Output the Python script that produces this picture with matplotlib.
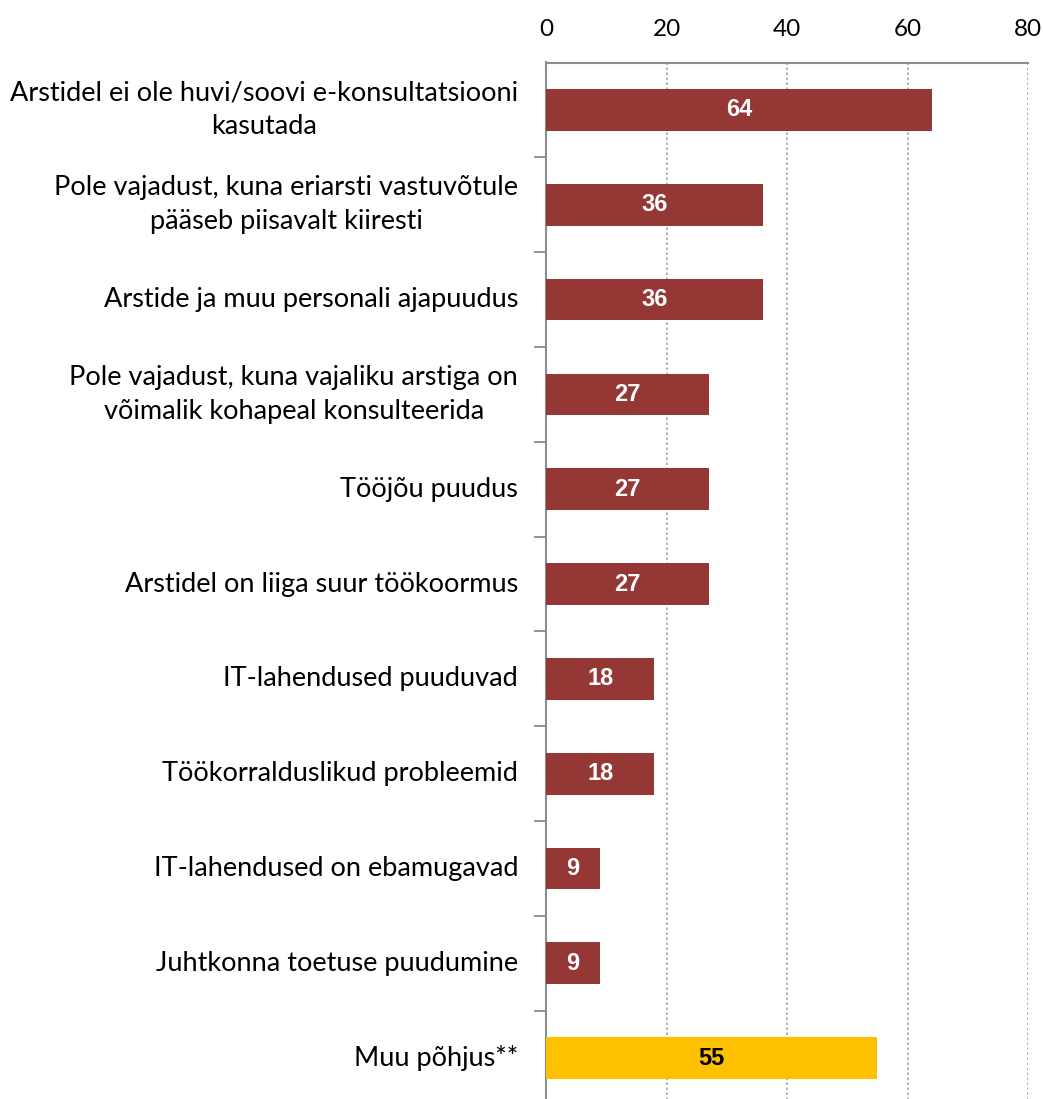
import matplotlib
matplotlib.use("Agg")
import matplotlib.pyplot as plt
import numpy as np

categories = [
    "Arstidel ei ole huvi/soovi e-konsultatsiooni\nkasutada",
    "Pole vajadust, kuna eriarsti vastuvõtule\npääseb piisavalt kiiresti",
    "Arstide ja muu personali ajapuudus",
    "Pole vajadust, kuna vajaliku arstiga on\nvõimalik kohapeal konsulteerida",
    "Tööjõu puudus",
    "Arstidel on liiga suur töökoormus",
    "IT-lahendused puuduvad",
    "Töökorralduslikud probleemid",
    "IT-lahendused on ebamugavad",
    "Juhtkonna toetuse puudumine",
    "Muu põhjus**",
]
values = [64, 36, 36, 27, 27, 27, 18, 18, 9, 9, 55]
is_other = [False] * 10 + [True]
xticks = [0, 20, 40, 60, 80]

RED = "#953735"
YELLOW = "#FFC000"
GRID = "#A6A6A6"
LABEL_FONT = ["Lato", "DejaVu Sans"]

fig = plt.figure(figsize=(10.43, 10.99), dpi=100)
ax = fig.add_axes([546 / 1043, -0.006, 482 / 1043, 1 - 62.5 / 1099 + 0.006])

y = np.arange(len(categories))
colors = [YELLOW if o else RED for o in is_other]
bars = ax.barh(y, values, height=0.44, color=colors, zorder=3)

for b, v, o in zip(bars, values, is_other):
    ax.text(b.get_width() / 2, b.get_y() + b.get_height() / 2, str(v),
            ha="center", va="center", fontsize=17, fontweight="bold",
            family="Liberation Sans", color="black" if o else "white",
            zorder=4)

ax.set_xlim(0, 80)
ax.set_ylim(len(categories) - 0.5, -0.5)
ax.set_xticks(xticks)
ax.xaxis.tick_top()
ax.tick_params(axis="x", length=0, pad=16, labelsize=17.5)
for lab in ax.get_xticklabels():
    lab.set_family(LABEL_FONT)

ax.set_yticks(y)
ax.set_yticklabels(categories, fontsize=19.5, family=LABEL_FONT,
                   ha="right", va="center", multialignment="center",
                   linespacing=1.45)
ax.tick_params(axis="y", which="major", length=0, pad=20)
ax.set_yticks(np.arange(len(categories) - 1) + 0.5, minor=True)
ax.tick_params(axis="y", which="minor", length=9, width=1.2,
               color="#808080", direction="out")

ax.grid(axis="x", color=GRID, linestyle=(0, (1.5, 1.5)), linewidth=1.2,
        zorder=0)
for s in ["right", "bottom"]:
    ax.spines[s].set_visible(False)
for s in ["top", "left"]:
    ax.spines[s].set_color("#8C8C8C")
    ax.spines[s].set_linewidth(1.5)

fig.savefig("out.png", dpi=100)
